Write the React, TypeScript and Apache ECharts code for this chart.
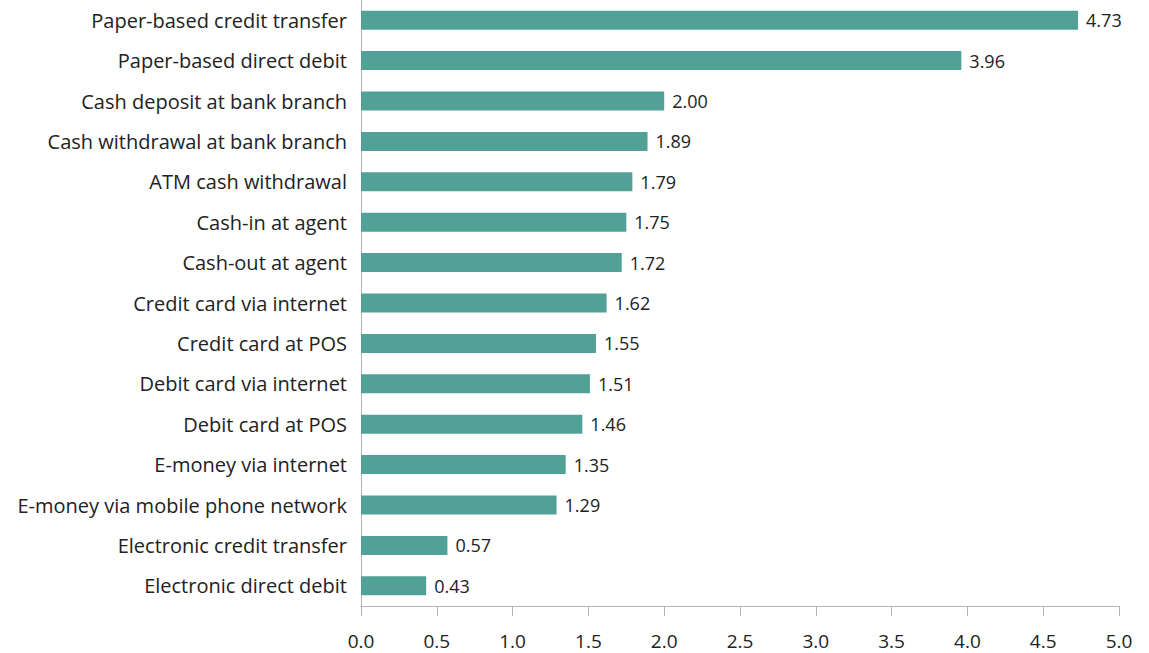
import React, { useEffect, useRef } from "react";
import * as echarts from "echarts";

const categories = [
  "Paper-based credit transfer",
  "Paper-based direct debit",
  "Cash deposit at bank branch",
  "Cash withdrawal at bank branch",
  "ATM cash withdrawal",
  "Cash-in at agent",
  "Cash-out at agent",
  "Credit card via internet",
  "Credit card at POS",
  "Debit card via internet",
  "Debit card at POS",
  "E-money via internet",
  "E-money via mobile phone network",
  "Electronic credit transfer",
  "Electronic direct debit",
];
const values = [4.73, 3.96, 2.0, 1.89, 1.79, 1.75, 1.72, 1.62, 1.55, 1.51, 1.46, 1.35, 1.29, 0.57, 0.43];

const FONT = "'Open Sans', 'Noto Sans', sans-serif";

export default function App() {
  const ref = useRef<HTMLDivElement>(null);
  useEffect(() => {
    if (!ref.current) return;
    const chart = echarts.init(ref.current, undefined, { renderer: "svg" });
    chart.setOption({
      animation: false,
      grid: { left: 361, right: 30, top: -1.5, bottom: 47, containLabel: false },
      xAxis: {
        type: "value",
        min: 0,
        max: 5,
        interval: 0.5,
        axisLine: { show: true, lineStyle: { color: "#b5b5b5", width: 1 } },
        axisTick: { show: true, length: 10, lineStyle: { color: "#b5b5b5" } },
        splitLine: { show: false },
        axisLabel: {
          margin: 25,
          fontSize: 19,
          color: "#222",
          fontFamily: FONT,
          formatter: (v: number) => v.toFixed(1),
        },
      },
      yAxis: {
        type: "category",
        data: categories,
        inverse: true,
        axisLine: { show: true, lineStyle: { color: "#b5b5b5", width: 1 } },
        axisTick: { show: false },
        axisLabel: { margin: 14, fontSize: 20, color: "#222", fontFamily: FONT },
      },
      series: [
        {
          type: "bar",
          data: values,
          barWidth: 19,
          itemStyle: { color: "#52a197" },
          label: {
            show: true,
            position: "right",
            distance: 8,
            fontSize: 18,
            color: "#222",
            fontFamily: FONT,
            formatter: (p: any) => p.value.toFixed(2),
          },
        },
      ],
    });
    return () => chart.dispose();
  }, []);
  return (
    <div
      ref={ref}
      style={{ position: "fixed", left: 0, top: 0, width: 1149, height: 653, background: "#fff" }}
    />
  );
}
